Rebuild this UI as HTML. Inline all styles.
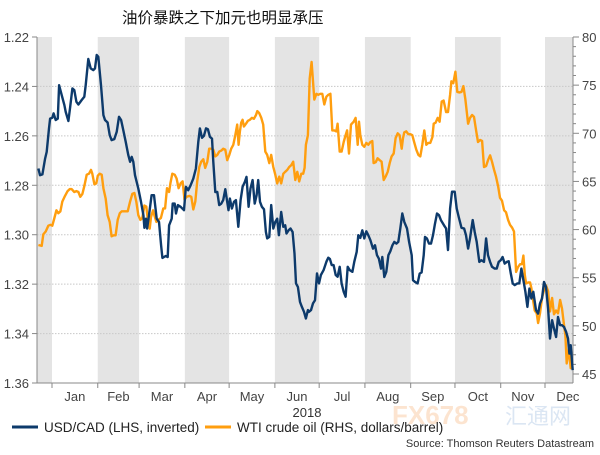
<!DOCTYPE html>
<html><head><meta charset="utf-8"><style>
html,body{margin:0;padding:0;background:#fff;}
body{width:600px;height:450px;overflow:hidden;font-family:"Liberation Sans","Noto Sans CJK SC",sans-serif;}
text{font-family:"Liberation Sans","Noto Sans CJK SC",sans-serif;}
</style></head><body>
<svg id="chart" width="600" height="450" xmlns="http://www.w3.org/2000/svg">
<text x="122" y="23" font-size="15.5" fill="#111">油价暴跌之下加元也明显承压</text>
<g id="bands"></g><g id="grid"></g><g id="axes"></g><g id="series"></g>
<text x="307" y="417" font-size="13" fill="#333" text-anchor="middle">2018</text>
<g opacity="0.35">
<text x="392" y="424" font-size="26" fill="#f9b57a" font-weight="bold">FX678</text>
<text x="505" y="424" font-size="22" fill="#9bb8dd">汇通网</text>
</g>
<g>
<line x1="12" y1="427" x2="38" y2="427" stroke="#0d3a6b" stroke-width="3"/>
<text x="44" y="432" font-size="13.5" fill="#222">USD/CAD (LHS, inverted)</text>
<line x1="205" y1="427" x2="231" y2="427" stroke="#ff9e0f" stroke-width="3"/>
<text x="237" y="432" font-size="13.5" fill="#222">WTI crude oil (RHS, dollars/barrel)</text>
</g>
<text x="594" y="447" font-size="11" fill="#333" text-anchor="end">Source: Thomson Reuters Datastream</text>
</svg>
<script>
// Day index: days since 1 Jan 2018
const months = ["Jan","Feb","Mar","Apr","May","Jun","Jul","Aug","Sep","Oct","Nov","Dec"];
const monthStarts = [0,31,59,90,120,151,181,212,243,273,304,334,365];
const leftTicks = [1.22,1.24,1.26,1.28,1.30,1.32,1.34,1.36];
const rightTicks = [45,50,55,60,65,70,75,80];
const usdDays = [-9.2,-8.1,-6.5,-4.7,-3.6,-2.0,-1.3,0.2,1.1,2.5,3.9,4.8,6.6,8.4,9.3,11.1,12.2,13.8,15.1,16.5,17.9,20.1,21.9,22.8,24.6,26.2,28.0,29.1,30.3,31.4,33.2,34.8,35.9,37.7,39.1,40.4,42.2,43.8,45.4,46.8,48.3,49.9,51.7,52.9,54.0,55.1,56.2,58.5,60.3,61.9,62.6,63.7,64.4,65.7,67.5,69.1,70.9,72.5,73.9,74.8,77.0,78.4,79.3,81.1,81.8,83.1,84.0,85.3,87.1,89.4,90.7,92.3,93.9,95.7,97.5,99.1,100.2,101.6,102.9,104.3,105.6,107.0,108.4,109.3,110.6,112.0,113.3,114.7,116.0,117.4,118.7,119.6,120.5,121.9,123.3,124.6,126.2,127.8,129.1,130.7,131.8,133.2,134.5,135.9,137.3,138.6,139.7,140.9,142.2,143.6,144.9,145.8,147.2,148.5,149.9,151.3,152.6,153.7,155.3,156.7,158.0,158.9,160.3,161.6,163.0,164.3,165.3,166.6,168.0,169.3,170.7,172.0,173.4,174.1,175.5,176.8,178.2,179.5,180.9,182.2,184.0,185.9,187.2,188.3,189.5,190.8,192.2,193.5,194.9,196.2,197.6,198.9,200.3,201.7,203.5,204.8,206.4,207.5,208.9,210.2,211.6,212.9,214.3,215.7,217.5,218.8,220.2,221.5,222.9,223.8,225.1,226.5,227.9,229.2,230.6,231.9,233.3,234.6,236.0,237.3,238.7,240.5,241.9,243.7,244.6,245.9,247.7,249.1,250.4,251.8,252.7,254.0,255.4,256.8,258.1,259.5,260.8,262.2,263.5,265.6,267.0,268.3,269.7,271.0,272.8,274.2,275.5,277.4,279.2,280.5,281.9,283.2,285.0,286.4,287.7,289.5,290.9,292.7,294.1,295.4,296.8,298.1,299.9,301.3,302.6,304.0,305.3,306.7,308.1,309.4,310.8,312.1,313.5,315.3,316.6,318.0,319.4,320.7,322.1,323.4,324.8,326.1,327.9,329.3,330.6,332.0,333.3,334.7,336.1,337.4,338.8,340.1,341.5,342.8,344.2,345.5,346.9,348.3,349.6,350.5,351.4,352.8];
const usdValues = [1.2732,1.2759,1.2756,1.2692,1.2665,1.2570,1.2530,1.2527,1.2509,1.2536,1.2530,1.2395,1.2435,1.2476,1.2503,1.2540,1.2489,1.2408,1.2415,1.2462,1.2473,1.2455,1.2442,1.2395,1.2289,1.2327,1.2334,1.2327,1.2273,1.2280,1.2395,1.2516,1.2536,1.2546,1.2597,1.2617,1.2613,1.2584,1.2523,1.2536,1.2577,1.2624,1.2678,1.2705,1.2685,1.2705,1.2759,1.2813,1.2867,1.2921,1.2972,1.2935,1.2975,1.2921,1.2840,1.2840,1.2935,1.2948,1.3043,1.3094,1.3086,1.3090,1.2962,1.2935,1.2874,1.2874,1.2914,1.2880,1.2887,1.2901,1.2806,1.2820,1.2800,1.2773,1.2732,1.2624,1.2570,1.2608,1.2600,1.2570,1.2573,1.2604,1.2611,1.2705,1.2827,1.2827,1.2880,1.2874,1.2860,1.2816,1.2867,1.2901,1.2854,1.2894,1.2867,1.2860,1.2968,1.2860,1.2806,1.2786,1.2766,1.2887,1.2813,1.2779,1.2874,1.2840,1.2779,1.2867,1.2887,1.2897,1.2989,1.3015,1.3009,1.2880,1.2975,1.2948,1.2935,1.3002,1.2908,1.2968,1.2962,1.2995,1.2982,1.2975,1.2989,1.3076,1.3197,1.3211,1.3272,1.3292,1.3312,1.3339,1.3305,1.3312,1.3305,1.3278,1.3265,1.3157,1.3197,1.3163,1.3143,1.3109,1.3093,1.3098,1.3123,1.3123,1.3163,1.3170,1.3130,1.3197,1.3231,1.3251,1.3130,1.3143,1.3150,1.3109,1.3069,1.3002,1.3013,1.2982,1.3015,1.2986,1.3002,1.3022,1.3056,1.3043,1.3083,1.3097,1.3137,1.3090,1.3171,1.3150,1.3083,1.3067,1.3043,1.3029,1.3036,1.3029,1.2975,1.2914,1.2948,1.2975,1.3029,1.3083,1.3184,1.3191,1.3197,1.3157,1.3153,1.3083,1.3009,1.3015,1.3036,1.3036,1.3002,1.2955,1.2914,1.2921,1.2941,1.2962,1.2975,1.3062,1.2894,1.2826,1.2826,1.2894,1.2928,1.2972,1.2975,1.3002,1.3056,1.3015,1.2941,1.2989,1.3029,1.3110,1.3103,1.3110,1.3015,1.3083,1.3110,1.3130,1.3137,1.3137,1.3110,1.3103,1.3090,1.3117,1.3110,1.3107,1.3157,1.3197,1.3204,1.3197,1.3197,1.3137,1.3184,1.3231,1.3292,1.3218,1.3258,1.3231,1.3305,1.3319,1.3278,1.3258,1.3191,1.3211,1.3299,1.3420,1.3346,1.3380,1.3414,1.3333,1.3366,1.3366,1.3373,1.3393,1.3420,1.3481,1.3447,1.3548];
const oilDays = [-9.2,-7.0,-5.9,-4.3,-2.5,-1.1,0.2,1.6,3.0,4.3,5.7,7.0,8.8,10.6,12.0,13.3,15.1,16.5,17.9,19.2,20.6,21.9,23.5,25.1,26.4,27.3,28.7,30.0,31.0,32.3,33.7,34.8,36.4,37.7,39.1,40.4,41.8,43.1,44.5,45.9,47.2,48.6,49.9,51.3,52.9,54.4,55.8,57.1,58.5,59.9,61.2,62.6,63.9,64.8,66.2,67.1,68.4,69.3,70.7,72.0,73.8,75.4,76.6,77.9,79.3,80.2,81.5,83.1,84.4,85.8,87.1,88.5,89.8,91.2,93.0,94.4,95.7,97.1,98.4,99.8,101.1,102.5,103.8,105.2,106.5,107.9,109.3,110.6,112.0,113.3,114.7,116.0,117.4,118.7,120.1,121.4,122.8,124.2,125.5,126.4,127.3,128.2,129.1,130.0,131.4,132.7,134.1,135.4,136.8,138.2,139.1,140.4,141.8,143.1,144.5,145.8,147.2,148.5,149.9,151.3,152.6,154.0,155.3,156.7,158.0,159.4,160.7,162.1,163.4,164.8,166.2,167.5,168.9,170.2,171.1,172.0,173.4,174.6,175.9,176.8,177.7,179.1,180.4,181.8,183.1,184.5,185.9,187.2,188.6,189.9,191.3,192.6,193.5,194.9,196.2,197.6,198.9,199.9,201.2,202.6,204.4,205.7,207.1,208.0,208.9,210.2,211.6,212.9,214.3,215.7,217.0,217.9,219.3,220.6,222.0,223.3,224.7,226.0,227.4,228.8,230.1,231.5,232.8,234.2,235.5,236.9,237.8,238.7,240.0,241.4,242.8,244.1,245.5,246.8,248.2,249.5,250.9,252.2,253.6,254.9,256.3,257.7,258.6,259.9,261.3,262.6,264.0,265.3,267.0,268.3,269.7,270.6,271.9,273.3,274.6,276.0,277.4,278.7,280.1,281.9,283.2,284.6,285.9,287.3,288.6,290.0,291.4,292.7,294.1,295.4,296.8,298.1,299.5,300.8,302.2,303.5,304.9,306.3,307.6,309.0,310.3,311.7,313.0,314.4,315.7,317.1,318.4,319.4,320.3,321.2,322.5,323.9,324.8,325.7,327.0,328.4,329.3,330.6,332.0,333.3,334.7,336.1,337.4,338.8,340.1,341.5,342.8,344.2,345.5,346.9,347.8,348.7,350.1,351.4,352.3];
const oilValues = [58.4,58.3,59.5,59.8,60.4,60.5,60.4,61.2,62.0,61.7,61.9,62.9,63.5,64.0,64.2,64.2,63.9,64.0,63.9,63.4,63.7,64.5,65.7,65.8,66.2,65.8,64.7,64.8,65.6,65.8,65.7,64.3,63.2,61.5,60.8,59.3,59.4,59.4,61.0,61.7,61.9,61.9,61.9,61.9,62.9,63.7,63.8,62.9,61.5,61.0,61.2,62.5,62.4,61.2,60.1,61.3,62.0,61.5,60.8,61.0,61.2,62.2,62.2,64.3,63.9,64.8,65.8,65.7,65.3,64.3,64.8,65.0,63.1,63.4,63.5,63.4,62.1,62.9,65.0,66.5,67.05,67.3,66.4,67.05,68.4,68.4,68.3,67.6,67.75,68.1,68.2,68.4,68.3,67.2,67.75,68.4,68.8,69.8,70.9,68.8,70.2,71.1,71.4,70.7,71.0,71.3,71.4,71.6,71.5,71.9,72.3,72.1,71.6,70.9,68.1,67.75,66.9,67.75,66.5,65.7,64.8,65.5,64.8,65.8,66.0,66.2,66.5,66.7,67.05,65.15,66.0,65.0,65.8,65.8,66.4,68.8,69.8,75.7,77.4,75.4,73.5,74.1,74.0,74.1,74.1,73.0,73.8,74.0,74.1,70.3,70.3,70.2,71.0,68.1,68.1,69.1,69.8,70.3,67.9,70.9,71.2,71.6,68.8,71.2,69.8,68.8,68.6,69.0,68.8,69.1,69.2,66.9,67.0,67.4,67.2,67.05,65.15,65.5,66.0,66.9,67.6,67.9,69.5,70.0,69.8,68.4,69.5,70.1,70.2,69.9,69.9,69.8,69.0,68.3,67.75,67.6,68.8,70.3,68.8,69.0,69.0,69.6,71.0,71.1,71.6,71.2,73.3,73.4,72.2,72.2,74.0,75.4,75.2,76.4,74.3,74.25,74.3,74.9,73.5,71.0,71.6,71.9,71.7,70.3,69.1,69.3,69.2,66.5,66.6,67.2,67.7,67.05,66.2,65.5,64.5,63.3,63.0,62.0,61.8,61.0,60.5,60.2,59.8,55.6,56.1,56.4,56.4,57.3,55.3,54.4,54.5,54.5,53.9,52.9,51.6,51.3,50.3,51.3,52.9,53.7,54.2,53.6,51.5,52.9,51.2,51.6,51.3,52.7,51.8,50.1,49.0,46.1,47.6,45.6,45.6];

const NS = "http://www.w3.org/2000/svg";
const PL = 37, PR = 573, PT = 37, PB = 383;
const X0 = 52, XDAY = (545 - 52) / 334;
const xDay = d => X0 + d * XDAY;
const yLeft = v => PT + (v - 1.22) / 0.14 * (PB - PT);
const yRight = v => 37 + (80 - v) * (374 - 37) / 35;
function mk(tag, attrs, parent) {
  const el = document.createElementNS(NS, tag);
  for (const k in attrs) el.setAttribute(k, attrs[k]);
  parent.appendChild(el);
  return el;
}
const bands = document.getElementById('bands');
const grid = document.getElementById('grid');
const axes = document.getElementById('axes');
const series = document.getElementById('series');

// shaded month bands: Dec 2017, Feb, Apr, Jun, Aug, Oct, Dec
const bandStarts = [-31].concat(monthStarts.filter((m, i) => i % 2 === 1 && i < 12));
bandStarts.forEach((s, i) => {
  const e = s === -31 ? 0 : monthStarts[monthStarts.indexOf(s) + 1];
  const x1 = Math.max(PL, xDay(s)), x2 = Math.min(PR, xDay(e));
  const r = mk('rect', {x: x1, y: PT, width: x2 - x1, height: PB - PT, fill: '#e4e4e4'}, bands);
  
  
});

leftTicks.forEach(t => {
  const y = yLeft(t);
  if (t > 1.22 && t < 1.36) {
    const g = mk('line', {x1: PL, x2: PR, y1: y, y2: y, stroke: '#c8c8c8', 'stroke-width': 1, 'stroke-dasharray': '1.5,1.5'}, grid);
    
    
  }
  const tk = mk('line', {x1: PL - 5, x2: PL, y1: y, y2: y, stroke: '#888'}, axes);
  
  
  const tx = mk('text', {x: 29, y: y + 5, 'font-size': 13, fill: '#444', 'text-anchor': 'end'}, axes);
  tx.textContent = t.toFixed(2);
  
  
});
for (let v = 45; v <= 80; v++) {
  const y = yRight(v);
  const major = v % 5 === 0;
  const tk = mk('line', {x1: PR, x2: PR + (major ? 6 : 3), y1: y, y2: y, stroke: '#888'}, axes);
  
  
}
rightTicks.forEach(t => {
  const tx = mk('text', {x: 582, y: yRight(t) + 5, 'font-size': 13, fill: '#444'}, axes);
  tx.textContent = t;
  
  
});
const la = mk('line', {x1: PL, x2: PL, y1: PT, y2: PB, stroke: '#888'}, axes);


const ra = mk('line', {x1: PR, x2: PR, y1: PT, y2: PB, stroke: '#888'}, axes);


const ba = mk('line', {x1: PL, x2: PR, y1: PB, y2: PB, stroke: '#888'}, axes);


monthStarts.slice(0, 12).forEach((s, i) => {
  const x = xDay(s);
  const tk = mk('line', {x1: x, x2: x, y1: PB, y2: PB + 5, stroke: '#888'}, axes);
  
  
  const mid = xDay((s + monthStarts[i + 1]) / 2);
  const tx = mk('text', {x: mid, y: PB + 18, 'font-size': 13, fill: '#444', 'text-anchor': 'middle'}, axes);
  tx.textContent = months[i];
  
  
});

const oilPath = oilDays.map((d, i) => (i ? 'L' : 'M') + xDay(d).toFixed(1) + ',' + yRight(oilValues[i]).toFixed(1)).join('');
const op = mk('path', {d: oilPath, fill: 'none', stroke: '#ff9e0f', 'stroke-width': 2.4, 'stroke-linejoin': 'round'}, series);


const usdPath = usdDays.map((d, i) => (i ? 'L' : 'M') + xDay(d).toFixed(1) + ',' + yLeft(usdValues[i]).toFixed(1)).join('');
const up = mk('path', {d: usdPath, fill: 'none', stroke: '#0d3a6b', 'stroke-width': 2.4, 'stroke-linejoin': 'round'}, series);


</script>
</body></html>
